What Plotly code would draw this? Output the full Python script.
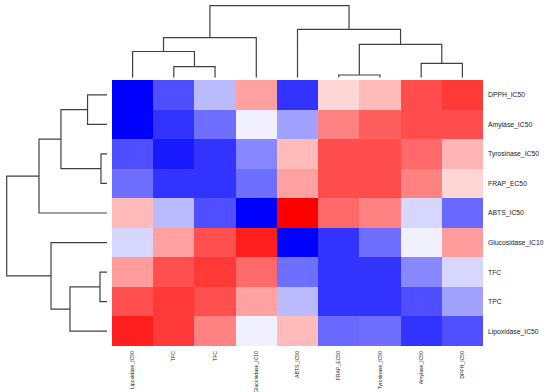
import plotly.graph_objects as go

# ---- data ----
row_labels = ["DPPH_IC50", "Amylase_IC50", "Tyrosinase_IC50", "FRAP_EC50", "ABTS_IC50",
              "Glucosidase_IC10", "TFC", "TPC", "Lipoxidase_IC50"]
col_labels = ["Lipoxidase_IC50", "TPC", "TFC", "Glucosidase_IC10", "ABTS_IC50",
              "FRAP_EC50", "Tyrosinase_IC50", "Amylase_IC50", "DPPH_IC50"]

values = [
    [-1.00, -0.69, -0.27,  0.37, -0.80,  0.16,  0.27,  0.70,  0.78],
    [-1.00, -0.80, -0.57, -0.06, -0.37,  0.49,  0.63,  0.70,  0.70],
    [-0.69, -0.90, -0.80, -0.47,  0.27,  0.70,  0.70,  0.59,  0.29],
    [-0.57, -0.80, -0.80, -0.57,  0.37,  0.70,  0.70,  0.49,  0.16],
    [ 0.27, -0.27, -0.69, -1.00,  1.00,  0.59,  0.49, -0.16, -0.59],
    [-0.16,  0.37,  0.69,  0.88, -1.00, -0.80, -0.57, -0.06,  0.39],
    [ 0.39,  0.69,  0.78,  0.59, -0.57, -0.80, -0.80, -0.47, -0.16],
    [ 0.69,  0.78,  0.69,  0.37, -0.27, -0.80, -0.80, -0.69, -0.37],
    [ 0.88,  0.78,  0.49, -0.06,  0.27, -0.59, -0.57, -0.80, -0.69],
]

# linkage: (child_a, child_b, height); ids 0..8 are leaves, 9+ are merges
col_linkage = [(1, 2, 0.153), (5, 6, 0.0375), (7, 8, 0.200), (0, 9, 0.364),
               (10, 11, 0.4625), (12, 3, 0.556), (4, 13, 0.672), (14, 15, 1.0)]
row_linkage = [(0, 1, 0.194), (2, 3, 0.060), (9, 10, 0.459), (11, 4, 0.678),
               (6, 7, 0.070), (13, 8, 0.369), (5, 14, 0.558), (12, 15, 1.0)]


def dendro_segments(linkage, n):
    pos = {i: float(i) for i in range(n)}
    hgt = {i: 0.0 for i in range(n)}
    P, H = [], []
    for k, (a, b, h) in enumerate(linkage):
        nid = n + k
        P += [pos[a], pos[a], pos[b], pos[b], None]
        H += [hgt[a], h, h, hgt[b], None]
        pos[nid] = (pos[a] + pos[b]) / 2
        hgt[nid] = h
    return P, H


W, Hpx = 550, 392
hm_x0, hm_x1, hm_y0, hm_y1 = 112, 483, 80, 346

fig = go.Figure()
fig.add_trace(go.Heatmap(
    z=values, x=list(range(9)), y=list(range(9)),
    colorscale=[[0, "rgb(0,0,255)"], [0.5, "rgb(255,255,255)"], [1, "rgb(255,0,0)"]],
    zmin=-1, zmax=1, showscale=False, hoverinfo="skip",
))

cp, ch = dendro_segments(col_linkage, 9)
fig.add_trace(go.Scatter(x=cp, y=ch, mode="lines", xaxis="x2", yaxis="y2",
                         line=dict(color="#404040", width=1.2), hoverinfo="skip"))
rp, rh = dendro_segments(row_linkage, 9)
fig.add_trace(go.Scatter(x=rh, y=rp, mode="lines", xaxis="x3", yaxis="y3",
                         line=dict(color="#404040", width=1.2), hoverinfo="skip"))

xdom = [hm_x0 / W, hm_x1 / W]
ydom = [1 - hm_y1 / Hpx, 1 - hm_y0 / Hpx]
top_leaf, top_root = 77.7, 5.7
left_leaf, left_root = 107.0, 6.7

fig.update_layout(
    width=W, height=Hpx, margin=dict(l=0, r=0, t=0, b=0, autoexpand=False),
    paper_bgcolor="white", plot_bgcolor="white", showlegend=False,
    font=dict(family="Liberation Sans, Arial, sans-serif", color="#222"),
    xaxis=dict(domain=xdom, range=[-0.5, 8.5], tickvals=list(range(9)), ticktext=col_labels,
               tickangle=-90, showgrid=False, zeroline=False, ticks="", showline=False,
               automargin=False,
               tickfont=dict(size=5.1, color="#222"), ticklabelstandoff=3),
    yaxis=dict(domain=ydom, range=[8.5, -0.5], tickvals=list(range(9)), ticktext=row_labels,
               side="right", showgrid=False, zeroline=False, ticks="", showline=False,
               automargin=False,
               tickfont=dict(size=6.8, color="#222"), ticklabelstandoff=4),
    xaxis2=dict(domain=xdom, range=[-0.5, 8.5], visible=False, anchor="y2"),
    yaxis2=dict(domain=[1 - top_leaf / Hpx, 1 - 2 / Hpx],
                range=[0, (top_leaf - 2) / (top_leaf - top_root)], visible=False, anchor="x2"),
    xaxis3=dict(domain=[3 / W, left_leaf / W],
                range=[(left_leaf - 3) / (left_leaf - left_root), 0], visible=False, anchor="y3"),
    yaxis3=dict(domain=ydom, range=[8.5, -0.5], visible=False, anchor="x3"),
)

fig.write_html("out.html", config={"displayModeBar": False, "staticPlot": True},
               post_script="document.body.style.margin='0px';document.body.style.overflow='hidden';")
